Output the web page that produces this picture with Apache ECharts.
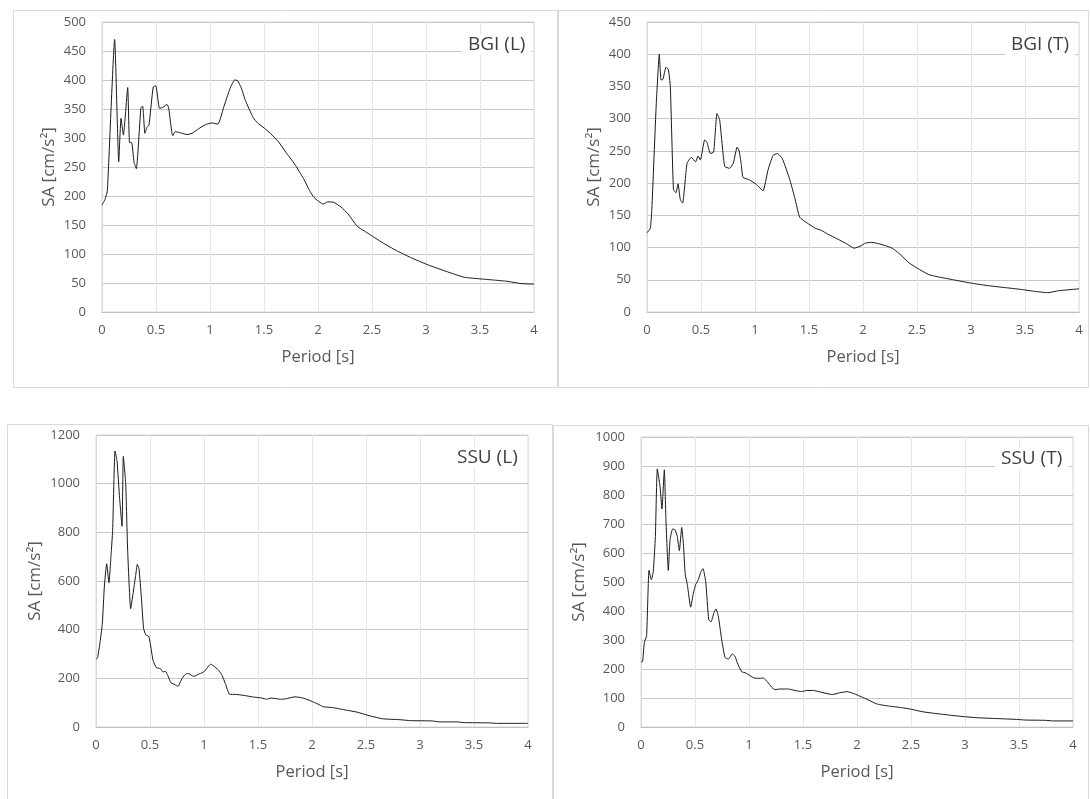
<!DOCTYPE html>
<html>
<head>
<meta charset="utf-8">
<script src="https://cdn.jsdelivr.net/npm/echarts@6/dist/echarts.min.js"></script>
<style>
html,body{margin:0;padding:0;background:#fff;}
#c{width:1090px;height:799px;}
</style>
</head>
<body>
<div id="c"></div>
<script>
// ---- Data (period [s], spectral acceleration [cm/s2]) ----
const titles = ['BGI (L)', 'BGI (T)', 'SSU (L)', 'SSU (T)'];
const xTicks = [0, 0.5, 1, 1.5, 2, 2.5, 3, 3.5, 4];
const yMaxes = [500, 450, 1200, 1000];
const yIntervals = [50, 50, 200, 100];

const periodBgiL = [0,0.03,0.05,0.117,0.155,0.176,0.198,0.238,0.255,0.275,0.296,0.318,0.36,0.377,0.397,0.417,0.435,0.474,0.498,0.533,0.565,0.602,0.617,0.655,0.678,0.726,0.787,0.833,0.895,0.957,1.019,1.074,1.125,1.185,1.228,1.255,1.29,1.327,1.4,1.44,1.49,1.559,1.636,1.70,1.784,1.866,1.926,1.965,2.048,2.09,2.147,2.213,2.279,2.362,2.461,2.593,2.725,2.857,3.022,3.187,3.352,3.51,3.633,3.749,3.88,4];
const saBgiL = [184,195,210,470,259,334,305,387,292,292,259,247,352,355,308,319,322,388,390,351,353,358,352,304,311,309,306,308,316,323,326,324,352,385,400,399,386,365,335,326,319,308,293,276,255,230,208,197,186,190,189,181,169,148,136,120,106,94,81,70,60,57,55,53,49,48];

const periodBgiT = [0,0.031,0.045,0.085,0.114,0.13,0.148,0.176,0.198,0.216,0.245,0.269,0.287,0.309,0.33,0.37,0.41,0.45,0.472,0.494,0.534,0.556,0.586,0.617,0.648,0.673,0.719,0.765,0.799,0.835,0.853,0.873,0.889,0.95,1.012,1.074,1.12,1.167,1.207,1.253,1.321,1.367,1.414,1.484,1.557,1.61,1.673,1.767,1.846,1.918,1.972,2.025,2.082,2.145,2.208,2.27,2.333,2.428,2.522,2.61,2.711,2.836,2.994,3.151,3.308,3.465,3.591,3.711,3.811,4];
const saBgiT = [123,130,160,320,400,360,361,380,376,350,190,185,199,174,169,230,240,233,242,236,267,263,246,248,308,298,226,223,231,256,250,229,209,205,198,188,220,243,246,238,206,178,147,138,130,127,121,113,106,99,102,107,108,106,103,99,91,76,66,58,54,50,45,41,38,35,32,30,33,36];

const periodSsuL = [0,0.015,0.04,0.059,0.077,0.099,0.12,0.139,0.154,0.176,0.194,0.219,0.241,0.253,0.275,0.293,0.321,0.343,0.367,0.383,0.398,0.42,0.441,0.463,0.488,0.503,0.528,0.559,0.596,0.62,0.642,0.664,0.694,0.731,0.759,0.796,0.836,0.858,0.904,0.96,0.997,1.028,1.059,1.083,1.136,1.167,1.198,1.238,1.29,1.367,1.46,1.537,1.577,1.62,1.707,1.759,1.842,1.908,1.99,2.056,2.106,2.188,2.32,2.419,2.518,2.65,2.815,2.914,3.112,3.178,3.343,3.409,3.64,3.706,4];
const saSsuL = [278,285,356,427,575,671,593,705,808,1134,1096,938,825,1112,1000,726,486,548,623,668,651,534,404,377,373,342,274,244,240,226,229,212,182,174,167,199,219,219,208,219,226,242,258,253,233,212,178,134,134,130,123,119,114,119,114,116,124,120,107,94,83,80,69,61,48,34,30,26,25,21,21,18,17,15,15];

const periodSsuT = [0,0.015,0.031,0.052,0.074,0.096,0.114,0.133,0.151,0.176,0.194,0.216,0.231,0.253,0.269,0.293,0.315,0.336,0.355,0.377,0.392,0.41,0.429,0.46,0.485,0.506,0.531,0.552,0.574,0.599,0.627,0.648,0.676,0.694,0.716,0.747,0.778,0.809,0.846,0.87,0.892,0.932,0.972,1.009,1.056,1.102,1.133,1.17,1.21,1.241,1.287,1.364,1.426,1.488,1.534,1.596,1.657,1.75,1.774,1.838,1.908,1.965,2.06,2.188,2.299,2.41,2.506,2.601,2.696,2.855,2.982,3.11,3.3,3.491,3.555,3.746,3.81,4];
const saSsuT = [224,226,292,315,540,508,537,657,890,830,752,887,715,540,646,683,680,657,608,688,634,525,491,413,462,491,508,533,546,502,370,362,395,407,382,301,240,234,252,244,221,191,186,177,168,168,169,156,137,129,131,131,126,122,126,126,121,113,112,118,122,116,101,79,72,67,61,53,48,41,36,32,29,26,24,23,21,21];

const periods = [periodBgiL, periodBgiT, periodSsuL, periodSsuT];
const sas = [saBgiL, saBgiT, saSsuL, saSsuT];

// ---- Layout ----
const grids = [
  {left: 102, top: 22, width: 432, height: 290},
  {left: 647, top: 22, width: 432, height: 290},
  {left: 96, top: 435, width: 432, height: 292},
  {left: 641, top: 437, width: 432, height: 290}
];
const yNameGaps = [44, 44, 52, 53];
const titlePos = [
  {left: 462, top: 34},
  {left: 1005, top: 34},
  {left: 451, top: 447},
  {left: 995, top: 448}
];
const frames = [
  {x: 13.5, y: 10.5, width: 544, height: 377},
  {x: 558.5, y: 10.5, width: 530, height: 377},
  {x: 7.5, y: 424.5, width: 545, height: 380},
  {x: 553.5, y: 425.5, width: 535, height: 380}
];

const FONT = '"Open Sans", sans-serif';
const option = {
  animation: false,
  backgroundColor: '#fff',
  graphic: frames.map(f => ({
    type: 'rect', shape: f, silent: true, z: -10,
    style: {fill: null, stroke: '#d9d9d9', lineWidth: 1}
  })),
  title: titles.map((t, i) => ({
    text: t, left: titlePos[i].left, top: titlePos[i].top,
    backgroundColor: '#fff', padding: [1, 6],
    textStyle: {fontFamily: FONT, fontSize: 19, fontWeight: 'normal', color: '#404040'},
    z: 10
  })),
  grid: grids.map(g => Object.assign({
    containLabel: false, outerBoundsMode: 'none',
    show: true, borderColor: '#d9d9d9', borderWidth: 1
  }, g)),
  xAxis: grids.map((g, i) => ({
    type: 'value', gridIndex: i, min: 0, max: 4, interval: 0.5,
    name: 'Period [s]', nameLocation: 'middle', nameGap: 37,
    nameTextStyle: {fontFamily: FONT, fontSize: 16.5, color: '#595959'},
    axisLine: {show: true, onZero: false, lineStyle: {color: '#bfbfbf', width: 1}},
    axisTick: {show: false},
    axisLabel: {fontFamily: FONT, fontSize: 13, color: '#595959', margin: 12,
      formatter: v => xTicks.indexOf(v) >= 0 ? String(v) : ''},
    splitLine: {show: true, lineStyle: {color: '#e6e6e6', width: 1}}
  })),
  yAxis: grids.map((g, i) => ({
    type: 'value', gridIndex: i, min: 0, max: yMaxes[i], interval: yIntervals[i],
    name: 'SA [cm/s²]', nameLocation: 'middle', nameGap: yNameGaps[i],
    nameTextStyle: {fontFamily: FONT, fontSize: 17, color: '#595959'},
    axisLine: {show: true, lineStyle: {color: '#d9d9d9', width: 1}},
    axisTick: {show: false},
    axisLabel: {fontFamily: FONT, fontSize: 13, color: '#595959', margin: 16,
      formatter: v => String(v)},
    splitLine: {show: true, lineStyle: {color: '#c8c8c8', width: 1}}
  })),
  series: periods.map((p, i) => ({
    type: 'line', xAxisIndex: i, yAxisIndex: i,
    data: p.map((x, k) => [x, sas[i][k]]),
    showSymbol: false, smooth: 0.15,
    lineStyle: {color: '#1a1a1a', width: 1},
    z: 5
  }))
};

const chart = echarts.init(document.getElementById('c'), null, {renderer: 'canvas'});
chart.setOption(option);
</script>
</body>
</html>
